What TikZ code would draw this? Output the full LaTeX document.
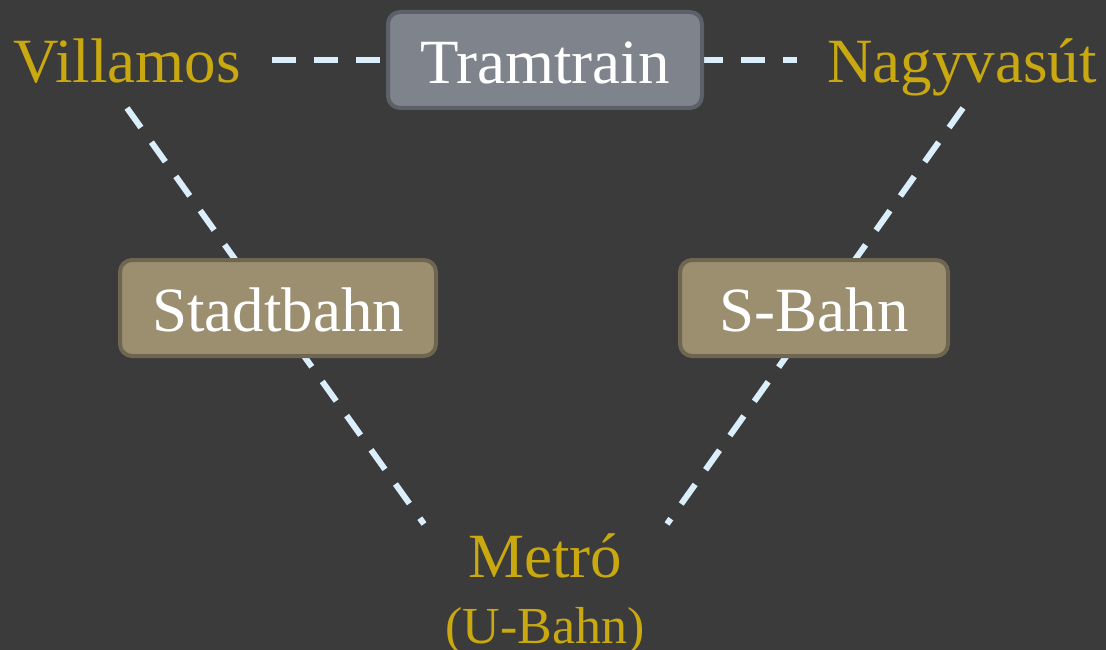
\documentclass[tikz,border=0pt]{standalone}
\usepackage{fontspec}
\setmainfont{Liberation Serif}
\definecolor{bg}{HTML}{3B3B3B}
\definecolor{gold}{HTML}{C9A90F}
\definecolor{dashc}{HTML}{DAEEFB}
\definecolor{grayfill}{HTML}{7E838C}
\definecolor{grayedge}{HTML}{5C6068}
\definecolor{tanfill}{HTML}{9C8F6F}
\definecolor{tanedge}{HTML}{6E6650}
\tikzset{
  lbl/.style={text=gold, inner sep=0pt, font=\fontsize{63}{70}\selectfont},
  sublbl/.style={text=gold, inner sep=0pt, font=\fontsize{52}{60}\selectfont},
  conn/.style={draw=dashc, line width=6pt, dash pattern=on 24pt off 18pt, line cap=butt},
  boxbase/.style={line width=4pt, rounded corners=12pt, text=white,
    minimum height=96pt, inner sep=0pt, text height=47pt, text depth=0pt,
    font=\fontsize{63}{70}\selectfont},
  graybox/.style={boxbase, draw=grayedge, fill=grayfill},
  tanbox/.style={boxbase, draw=tanedge, fill=tanfill},
}
\begin{document}
\begin{tikzpicture}[x=1pt, y=-1pt]
\fill[bg] (0,0) rectangle (1106,650);
\useasboundingbox (0,0) rectangle (1106,650);
% text labels
\node[lbl, anchor=base] (vil) at (127,83) {Villamos};
\node[lbl, anchor=base] (nagy) at (962,83) {Nagyvasút};
\node[lbl, anchor=base] (metro) at (545,577) {Metró};
\node[sublbl, anchor=base] (ubahn) at (545,643) {(U-Bahn)};
% connector end points
\coordinate (vilS) at (127,108);
\coordinate (vilE) at (272,60);
\coordinate (nagyS) at (963,108);
\coordinate (nagyW) at (797,60);
\coordinate (metroNW) at (424,524);
\coordinate (metroNE) at (667,524);
\coordinate (tramW) at (390,60);
\coordinate (tramE) at (699,60);
% connectors
\draw[conn] (vilE) -- (tramW);
\draw[conn] (tramE) -- (nagyW);
\draw[conn] (vilS) -- (metroNW);
\draw[conn] (nagyS) -- (metroNE);
% boxes
\node[graybox, minimum width=314pt] (tram) at (545,60) {Tramtrain};
\node[tanbox, minimum width=316pt] (stadt) at (278,308) {Stadtbahn};
\node[tanbox, minimum width=268pt] (sbahn) at (814,308) {S-Bahn};
\end{tikzpicture}
\end{document}
